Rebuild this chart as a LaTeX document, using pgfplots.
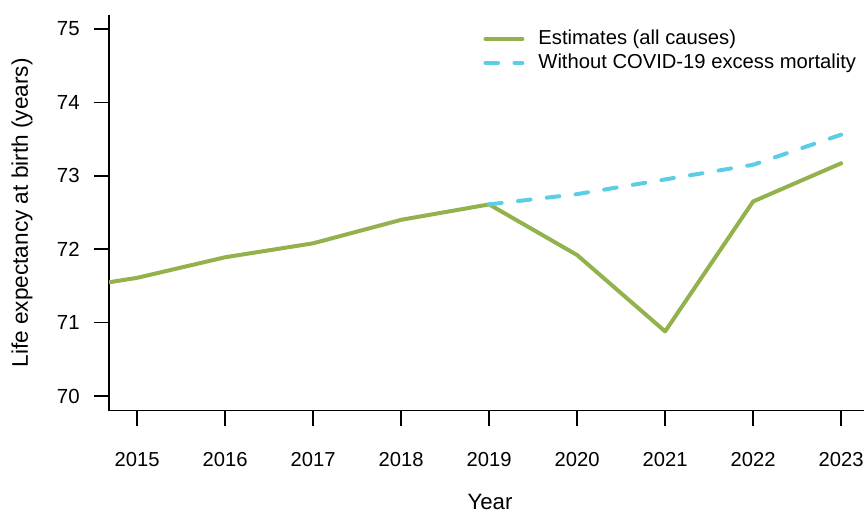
\documentclass[border=0pt]{standalone}
\usepackage{fontspec}
\setmainfont{Liberation Sans}
\usepackage{pgfplots}
\pgfplotsset{compat=1.18}

\definecolor{estgreen}{RGB}{147,178,77}
\definecolor{nocovid}{RGB}{92,205,229}

\begin{document}
\begin{tikzpicture}
\begin{axis}[
    scale only axis,
    width=377.5pt, height=197.85pt,
    xmin=2014.68, xmax=2023.26,
    ymin=69.8, ymax=75.19,
    axis lines=left,
    axis line style={-, line width=0.8pt},
    every tick/.style={black, line width=0.8pt},
    tick align=outside,
    major tick length=7.5pt,
    xtick={2015,2016,...,2023},
    ytick={70,71,...,75},
    /pgf/number format/1000 sep={},
    /pgf/number format/assume math mode=true,
    xticklabel style={anchor=center, inner sep=0pt, font=\fontsize{10.1}{12}\selectfont},
    yticklabel style={anchor=east, inner sep=0pt, font=\fontsize{10.2}{12}\selectfont},
    xticklabel shift=16.75pt,
    yticklabel shift=7pt,
    xlabel={Year},
    ylabel={Life expectancy at birth (years)},
    xlabel style={at={(axis description cs:0.5046,-0.2307)}, anchor=center, inner sep=0pt, font=\fontsize{11.1}{13}\selectfont},
    ylabel style={at={(axis description cs:-0.1152,0.5)}, anchor=center, inner sep=0pt, font=\fontsize{11.3}{13}\selectfont},
    legend style={draw=none, fill=none, at={(axis description cs:0.4954,0.9709)}, anchor=north west,
        inner sep=0pt, row sep=0pt, font=\fontsize{10.1}{12}\selectfont,
        nodes={inner sep=0pt, minimum height=12pt}},
    legend cell align=left,
    legend image code/.code={\draw[#1] (0pt,0pt) -- (18.5pt,0pt);},
]

% Estimates (all causes)
\addplot[estgreen, line width=2pt, line join=round, line cap=round] coordinates {
    (2014,71.42)
    (2015,71.61)
    (2016,71.89)
    (2017,72.08)
    (2018,72.40)
    (2019,72.61)
    (2020,71.92)
    (2021,70.88)
    (2022,72.65)
    (2023,73.17)
};
\addlegendentry{\hspace*{7pt}Estimates (all causes)}

% Without COVID-19 excess mortality
\addplot[nocovid, line width=2pt, line join=round, line cap=round, dash pattern=on 6.3pt off 8.2pt] coordinates {
    (2019,72.61)
    (2020,72.75)
    (2021,72.95)
    (2022,73.15)
    (2023,73.56)
};
\addlegendentry{\hspace*{7pt}Without COVID-19 excess mortality}

\end{axis}
\pgfresetboundingbox
\path ([shift={(-54.5pt,-50.65pt)}]current axis.south west) rectangle ([shift={(0pt,7.5pt)}]current axis.north east);
\end{tikzpicture}
\end{document}
